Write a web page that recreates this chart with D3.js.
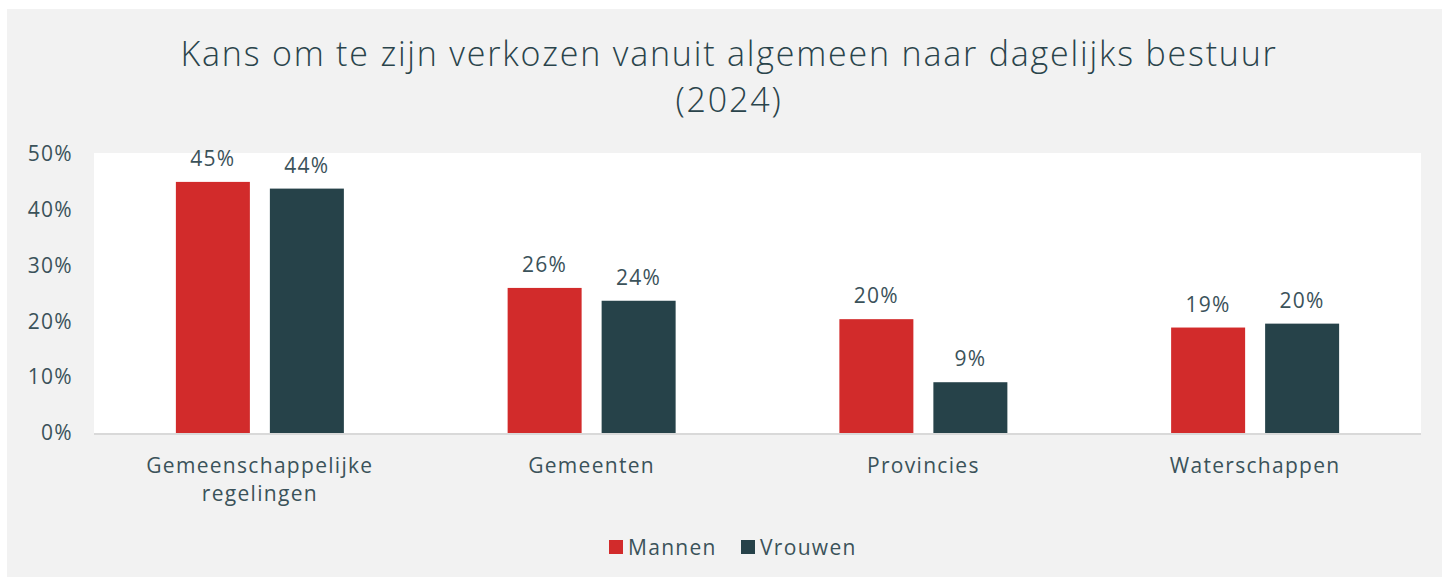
<!DOCTYPE html>
<html>
<head>
<meta charset="utf-8">
<script src="https://cdn.jsdelivr.net/npm/d3@7"></script>
<style>
  body { margin: 0; background: #fff; }
  svg { display: block; font-family: "Open Sans", Lato, sans-serif; }
</style>
</head>
<body>
<svg id="chart" width="1442" height="578"></svg>
<script>
var categories = [["Gemeenschappelijke", "regelingen"], ["Gemeenten"], ["Provincies"], ["Waterschappen"]];
var seriesNames = ["Mannen", "Vrouwen"];
var mannen = [45.0, 26.0, 20.4, 18.9];
var vrouwen = [43.8, 23.7, 9.1, 19.6];
var valueLabels = [["45%", "44%"], ["26%", "24%"], ["20%", "9%"], ["19%", "20%"]];
var yTicks = [0, 10, 20, 30, 40, 50];

var colors = { Mannen: "#d22b2b", Vrouwen: "#264249" },
    textColor = "#3b525a",
    labelFont = { size: "21px", weight: 400, spacing: "1.3px" },
    svg = d3.select("#chart"),
    margin = { left: 94, right: 21, top: 154, bottom: 145 },
    width = 1442 - margin.left - margin.right,
    plotTop = 153,
    y = d3.scaleLinear().domain([0, 50]).range([433, 154]),
    x0 = d3.scaleBand().domain(d3.range(categories.length)).range([margin.left, margin.left + width]),
    barW = 74,
    x1 = d3.scaleOrdinal().domain(seriesNames).range([-barW - 10, 10]);

function labelStyle(sel) {
  sel.attr("fill", textColor)
    .style("font-family", "'Open Sans', sans-serif")
    .style("font-size", labelFont.size)
    .style("font-weight", labelFont.weight)
    .style("letter-spacing", labelFont.spacing);
}

// panel background
svg.append("rect").attr("x", 7).attr("y", 9).attr("width", 1435).attr("height", 568).attr("fill", "#f2f2f2");
svg.append("rect").attr("x", margin.left).attr("y", plotTop).attr("width", width).attr("height", 433 - plotTop).attr("fill", "#fff");

// title
var title = svg.append("text").attr("text-anchor", "middle").attr("fill", "#2a444b")
  .style("font-size", "34px").style("font-weight", 300).style("letter-spacing", "1.8px");
title.append("tspan").attr("x", 729).attr("y", 66).text("Kans om te zijn verkozen vanuit algemeen naar dagelijks bestuur");
title.append("tspan").attr("x", 729).attr("y", 112).text("(2024)");

// y axis
var yAxis = svg.append("g").attr("transform", "translate(76,0)")
  .call(d3.axisLeft(y).tickValues(yTicks).tickFormat(function(d) { return d + "%"; }).tickSize(0));
yAxis.select(".domain").remove();
yAxis.selectAll("text").call(labelStyle);

// baseline
svg.append("line").attr("x1", margin.left).attr("x2", margin.left + width).attr("y1", 434).attr("y2", 434)
  .attr("stroke", "#d9d9d9").attr("stroke-width", 2);

var data = categories.map(function(c, i) {
  return [{ s: "Mannen", v: mannen[i], l: valueLabels[i][0] }, { s: "Vrouwen", v: vrouwen[i], l: valueLabels[i][1] }];
});

var groups = svg.append("g").selectAll("g").data(data).enter().append("g")
  .attr("transform", function(d, i) { return "translate(" + (x0(i) + x0.bandwidth() / 2) + ",0)"; });

groups.selectAll("rect").data(function(d) { return d; }).enter().append("rect")
  .attr("x", function(d) { return x1(d.s); })
  .attr("width", barW)
  .attr("y", function(d) { return y(d.v); })
  .attr("height", function(d) { return y(0) - y(d.v); })
  .attr("fill", function(d) { return colors[d.s]; });

groups.selectAll("text.val").data(function(d) { return d; }).enter().append("text")
  .attr("class", "val")
  .attr("x", function(d) { return x1(d.s) + barW / 2; })
  .attr("y", function(d) { return y(d.v) - 16; })
  .attr("text-anchor", "middle")
  .call(labelStyle)
  .text(function(d) { return d.l; });

// category labels
var cat = svg.append("g").selectAll("text").data(categories).enter().append("text")
  .attr("text-anchor", "middle").call(labelStyle);
cat.selectAll("tspan").data(function(d, i) { return d.map(function(t) { return { t: t, i: i }; }); }).enter().append("tspan")
  .attr("x", function(d) { return x0(d.i) + x0.bandwidth() / 2; })
  .attr("y", function(d, j) { return 473 + j * 28; })
  .text(function(d) { return d.t; });

// legend
var legendX = [609, 741];
var legend = svg.append("g").selectAll("g").data(seriesNames).enter().append("g")
  .attr("transform", function(d, i) { return "translate(" + legendX[i] + ",540)"; });
legend.append("rect").attr("width", 14).attr("height", 14).attr("fill", function(d) { return colors[d]; });
legend.append("text").attr("x", 19).attr("y", 14.5).call(labelStyle).text(function(d) { return d; });
</script>
</body>
</html>
